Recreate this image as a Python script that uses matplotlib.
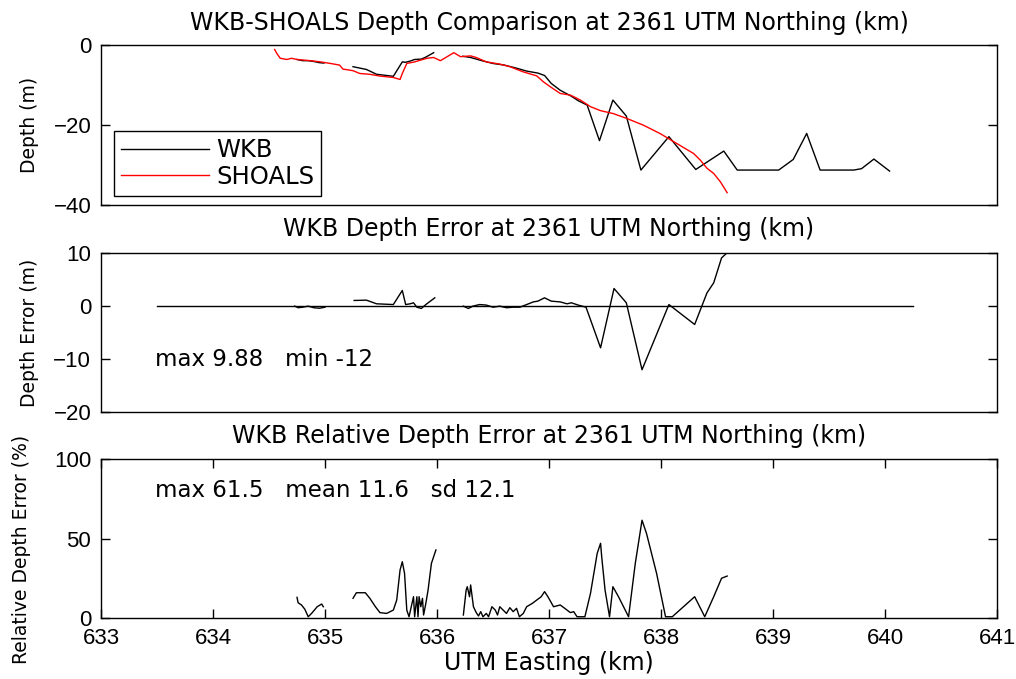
"""WKB vs SHOALS depth comparison along the 2361 km UTM northing line.

Three stacked panels: depth profiles, depth error, relative depth error.
"""
import matplotlib
matplotlib.use("Agg")
import matplotlib.pyplot as plt
import numpy as np

nan = np.nan

# ---- data (UTM easting in km) ----
shoals_x = [634.55, 634.57, 634.60, 634.66, 634.70, 634.75, 634.81, 634.87, 634.96,
            635.05, 635.13, 635.16, 635.25, 635.31, 635.40, 635.49, 635.61, 635.67,
            635.69, 635.73, 635.80, 635.91, 635.97, 636.03, 636.09, 636.15, 636.21,
            636.30, 636.35, 636.44, 636.56, 636.65, 636.77, 636.89, 636.95, 637.01,
            637.10, 637.19, 637.28, 637.37, 637.46, 637.57, 637.69, 637.84, 637.99,
            638.14, 638.29, 638.35, 638.41, 638.47, 638.53, 638.59]
shoals_y = [-1.1, -2.1, -3.3, -3.6, -3.3, -3.6, -3.75, -3.9, -4.2,
            -4.6, -5.0, -6.0, -6.4, -7.1, -7.3, -7.75, -8.1, -8.6,
            -7.1, -4.6, -4.2, -3.3, -3.1, -3.9, -2.9, -1.9, -2.9,
            -2.7, -3.1, -4.2, -4.75, -5.4, -6.7, -7.7, -9.2, -10.4,
            -12.1, -12.5, -13.75, -15.4, -16.4, -17.1, -18.3, -20.0, -22.1,
            -24.6, -27.1, -28.75, -30.8, -32.1, -34.2, -36.9]

wkb_x = [634.75, 634.80, 634.85, 634.90, 634.95, 634.99, nan,
         635.25, 635.37, 635.46, 635.61, 635.69, 635.72, 635.76, 635.80, 635.86,
         635.90, 635.97, nan,
         636.23, 636.30, 636.40, 636.50, 636.60, 636.70, 636.80, 636.90, 636.96,
         637.02, 637.10, 637.20, 637.26, 637.34, 637.45, 637.57, 637.69, 637.82,
         638.07, 638.31, 638.56, 638.68, 639.05, 639.18, 639.30, 639.42, 639.72,
         639.79, 639.90, 640.04]
wkb_y = [-3.6, -3.9, -3.9, -4.1, -4.4, -4.5, nan,
         -5.4, -6.1, -7.3, -7.8, -4.2, -4.3, -4.0, -3.6, -3.5,
         -3.0, -1.9, nan,
         -2.8, -3.1, -3.9, -4.6, -5.0, -5.7, -6.5, -7.0, -7.6,
         -9.6, -11.3, -12.8, -13.9, -15.0, -23.9, -13.75, -17.75, -31.25,
         -22.9, -31.1, -26.5, -31.25, -31.25, -28.6, -22.1, -31.25, -31.25,
         -30.9, -28.5, -31.5]

err_x = [634.73, 634.76, 634.80, 634.85, 634.90, 634.95, 635.00, nan,
         635.26, 635.37, 635.46, 635.61, 635.69, 635.72, 635.76, 635.79, 635.82,
         635.86, 635.90, 635.98, nan,
         636.235, 636.28, 636.32, 636.38, 636.44, 636.50, 636.56, 636.62, 636.68,
         636.74, 636.80, 636.86, 636.90, 636.96, 637.02, 637.10, 637.16, 637.20,
         637.26, 637.33, 637.46, 637.58, 637.69, 637.83, 638.07, 638.30, 638.41,
         638.47, 638.54, 638.58]
err_y = [0.0, -0.3, -0.2, 0.0, -0.3, -0.4, -0.2, nan,
         1.07, 1.13, 0.44, 0.3, 2.96, 0.3, 0.44, 0.63, -0.2,
         -0.44, 0.3, 1.57, nan,
         0.0, -0.44, 0.0, 0.3, 0.2, -0.2, 0.0, -0.3, -0.2,
         -0.2, 0.3, 0.8, 0.94, 1.57, 0.94, 0.8, 0.44, 0.63,
         0.2, -0.2, -7.86, 3.33, 0.63, -12.0, 0.3, -3.46, 2.5,
         4.4, 9.1, 9.88]
zero_x = [633.5, 640.25]
zero_y = [0.0, 0.0]

rel_x = [634.75, 634.76, 634.79, 634.82, 634.85, 634.88, 634.93, 634.97, 634.985, nan,
         635.25, 635.28, 635.36, 635.40, 635.45, 635.49, 635.55, 635.61, 635.64,
         635.67, 635.69, 635.71, 635.73, 635.75, 635.77, 635.79, 635.80, 635.82,
         635.83, 635.84, 635.855, 635.87, 635.88, 635.90, 635.92, 635.95, 635.99, nan,
         636.235, 636.26, 636.27, 636.29, 636.30, 636.325, 636.35, 636.37, 636.39,
         636.41, 636.44, 636.46, 636.49, 636.52, 636.54, 636.56, 636.59, 636.62,
         636.65, 636.68, 636.71, 636.735, 636.77, 636.80, 636.85, 636.89, 636.93,
         636.96, 636.99, 637.04, 637.10, 637.14, 637.19, 637.22, 637.25, 637.32,
         637.37, 637.43, 637.46, 637.47, 637.50, 637.54, 637.57, 637.62, 637.71,
         637.77, 637.83, 637.87, 637.96, 638.04, 638.10, 638.30, 638.39, 638.47,
         638.54, 638.59]
rel_y = [13.0, 9.6, 8.2, 5.5, 0.8, 2.9, 7.1, 8.8, 7.1, nan,
         12.4, 15.9, 15.9, 12.4, 7.1, 3.4, 2.9, 5.0, 11.3,
         30.2, 35.4, 28.1, 5.0, 0.8, 7.1, 13.4, 0.8, 13.4,
         0.8, 13.4, 7.1, 12.4, 1.9, 9.2, 17.6, 34.4, 42.8, nan,
         1.9, 17.6, 19.7, 13.4, 20.8, 7.1, 3.4, 1.3, 4.0,
         0.8, 2.9, 0.8, 7.1, 5.0, 1.9, 7.1, 5.0, 2.9,
         6.5, 4.0, 6.1, 0.8, 2.9, 7.1, 9.2, 11.3, 13.4,
         16.6, 13.4, 7.1, 8.2, 6.1, 3.4, 4.0, 0.8, 0.8,
         15.5, 40.7, 47.0, 38.6, 17.6, 0.8, 19.7, 13.4, 0.8,
         34.4, 61.5, 53.2, 28.1, 0.8, 0.8, 13.4, 0.8, 13.4,
         25.0, 26.4]

XLIM = (633, 641)
XTICKS = [633, 634, 635, 636, 637, 638, 639, 640, 641]

# ---- style ----
plt.rcParams["font.family"] = ["DejaVu Sans"]
plt.rcParams["axes.linewidth"] = 1.0
TICK_FS = 16
TICK_FONT = "Liberation Sans"
TITLE_FS = 17
NOTE_FS = 16.5
LABEL_FS = 13.5


def style_axes(ax, yticks, ylim, show_x=False):
    ax.set_xlim(*XLIM)
    ax.set_ylim(*ylim)
    ax.set_yticks(yticks)
    ax.tick_params(axis="y", direction="in", left=True, right=True,
                   length=6.5, width=1.0, labelsize=TICK_FS, pad=7)
    if show_x:
        ax.set_xticks(XTICKS)
        ax.tick_params(axis="x", direction="in", top=True, bottom=True,
                       length=6.5, width=1.0, labelsize=TICK_FS, pad=7.5)
    else:
        ax.set_xticks([])
    for lab in ax.get_xticklabels() + ax.get_yticklabels():
        lab.set_family(TICK_FONT)


fig = plt.figure(figsize=(10.16, 6.79), dpi=100)
ax1 = fig.add_axes([0.0994, 0.698, 0.882, 0.2356])
ax2 = fig.add_axes([0.0994, 0.393, 0.882, 0.2342])
ax3 = fig.add_axes([0.0994, 0.0898, 0.882, 0.2342])

# ---- top: depth profiles ----
ax1.plot(wkb_x, wkb_y, color="black", lw=1.0, label="WKB")
ax1.plot(shoals_x, shoals_y, color="red", lw=1.0, label="SHOALS")
style_axes(ax1, [-40, -20, 0], (-40, 0))
ax1.set_title("WKB-SHOALS Depth Comparison at 2361 UTM Northing (km)",
              fontsize=TITLE_FS, pad=11)
ax1.set_ylabel("Depth (m)", fontsize=LABEL_FS)
ax1.yaxis.set_label_coords(-0.069, 0.5)
leg = ax1.legend(loc="lower left", bbox_to_anchor=(0.0145, 0.056),
                 borderaxespad=0, fontsize=17.5, handlelength=3.6,
                 handletextpad=0.3, labelspacing=0.1, borderpad=0.3,
                 fancybox=False, framealpha=1, edgecolor="black")
leg.get_frame().set_linewidth(1.0)

# ---- middle: depth error ----
ax2.plot(zero_x, zero_y, color="black", lw=1.0)
ax2.plot(err_x, err_y, color="black", lw=1.0)
style_axes(ax2, [-20, -10, 0, 10], (-20, 10))
ax2.set_title("WKB Depth Error at 2361 UTM Northing (km)",
              fontsize=TITLE_FS, pad=12.5)
ax2.set_ylabel("Depth Error (m)", fontsize=LABEL_FS)
ax2.yaxis.set_label_coords(-0.069, 0.5)
ax2.text(633.48, -10, "max 9.88   min -12", fontsize=NOTE_FS,
         ha="left", va="center")

# ---- bottom: relative depth error ----
ax3.plot(rel_x, rel_y, color="black", lw=1.0)
style_axes(ax3, [0, 50, 100], (0, 100), show_x=True)
ax3.set_title("WKB Relative Depth Error at 2361 UTM Northing (km)",
              fontsize=TITLE_FS, pad=11.5)
ax3.set_ylabel("Relative Depth Error (%)", fontsize=LABEL_FS)
ax3.yaxis.set_label_coords(-0.078, 0.43)
ax3.set_xlabel("UTM Easting (km)", fontsize=TITLE_FS)
ax3.xaxis.set_label_coords(0.5, -0.21)
ax3.text(633.48, 80, "max 61.5   mean 11.6   sd 12.1", fontsize=NOTE_FS,
         ha="left", va="center")

fig.savefig("out.png", dpi=100)
